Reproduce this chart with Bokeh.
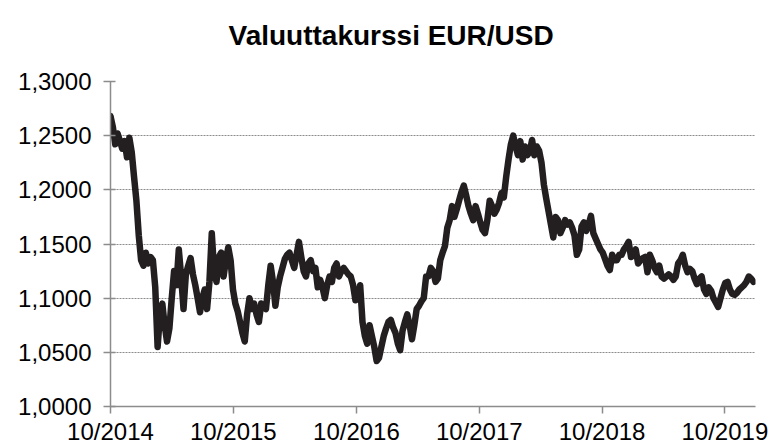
import pandas as pd
from bokeh.plotting import figure
from bokeh.models import Range1d, FixedTicker, Title
from bokeh.embed import file_html
from bokeh.resources import INLINE

title_text = "Valuuttakurssi EUR/USD"

# Weekly EUR/USD readings (from 1 Oct 2014)
v2014 = [1.268, 1.258, 1.242, 1.252, 1.245, 1.238, 1.245, 1.230, 1.248, 1.235,
         1.212, 1.190, 1.158, 1.135]
v2015 = [1.130, 1.142, 1.132, 1.138, 1.135, 1.110, 1.055, 1.085, 1.095, 1.075,
         1.060, 1.072, 1.100, 1.125, 1.112, 1.145, 1.120, 1.090, 1.122, 1.130,
         1.137, 1.122, 1.112, 1.100, 1.087, 1.100, 1.108, 1.090, 1.115, 1.160,
         1.125, 1.115, 1.138, 1.142, 1.120, 1.135, 1.147, 1.135, 1.108, 1.095,
         1.088, 1.078, 1.068, 1.060, 1.085, 1.100, 1.090, 1.095, 1.085, 1.078,
         1.095, 1.092]
v2016 = [1.090, 1.112, 1.130, 1.115, 1.093, 1.110, 1.120, 1.128, 1.136, 1.140,
         1.142, 1.135, 1.128, 1.140, 1.152, 1.138, 1.125, 1.120, 1.132, 1.135,
         1.125, 1.128, 1.110, 1.117, 1.110, 1.100, 1.112, 1.120, 1.115, 1.128,
         1.132, 1.120, 1.125, 1.128, 1.125, 1.122, 1.120, 1.112, 1.098, 1.100,
         1.112, 1.078, 1.065, 1.058, 1.075, 1.065, 1.055, 1.042, 1.045, 1.055,
         1.065, 1.072]
v2017 = [1.078, 1.080, 1.073, 1.068, 1.058, 1.052, 1.070, 1.078, 1.085, 1.075,
         1.062, 1.075, 1.090, 1.093, 1.097, 1.100, 1.120, 1.120, 1.128, 1.125,
         1.115, 1.118, 1.135, 1.142, 1.148, 1.165, 1.172, 1.185, 1.175, 1.182,
         1.190, 1.198, 1.204, 1.195, 1.185, 1.178, 1.172, 1.185, 1.178, 1.170,
         1.163, 1.160, 1.172, 1.190, 1.185, 1.178, 1.182, 1.188, 1.197, 1.193,
         1.212, 1.228]
v2018 = [1.242, 1.250, 1.240, 1.232, 1.245, 1.228, 1.240, 1.232, 1.235, 1.246,
         1.232, 1.240, 1.236, 1.225, 1.205, 1.192, 1.180, 1.168, 1.156, 1.175,
         1.172, 1.160, 1.165, 1.172, 1.168, 1.170, 1.165, 1.158, 1.140, 1.145,
         1.166, 1.170, 1.162, 1.168, 1.176, 1.160, 1.155, 1.150, 1.145, 1.142,
         1.136, 1.130, 1.126, 1.140, 1.135, 1.135, 1.140, 1.140, 1.145, 1.148,
         1.152, 1.138]
v2019 = [1.140, 1.145, 1.132, 1.135, 1.137, 1.138, 1.124, 1.140, 1.135, 1.128,
         1.124, 1.130, 1.120, 1.118, 1.120, 1.122, 1.120, 1.117, 1.120, 1.132,
         1.135, 1.140, 1.130, 1.124, 1.127, 1.125, 1.118, 1.113, 1.118, 1.120,
         1.108, 1.104, 1.110, 1.107, 1.100, 1.096, 1.092, 1.100, 1.108, 1.114,
         1.115, 1.108, 1.104, 1.103, 1.105, 1.108, 1.110, 1.112, 1.115, 1.120,
         1.118, 1.115]

x_tick_dates = ["2014-10-01", "2015-10-01", "2016-10-01", "2017-10-01", "2018-10-01", "2019-10-01"]
x_tick_labels = ["10/2014", "10/2015", "10/2016", "10/2017", "10/2018", "10/2019"]
y_ticks = [1.00, 1.05, 1.10, 1.15, 1.20, 1.25, 1.30]
y_tick_labels = ["1,0000", "1,0500", "1,1000", "1,1500", "1,2000", "1,2500", "1,3000"]

values = v2014 + v2015 + v2016 + v2017 + v2018 + v2019
dates = pd.date_range("2014-10-01", periods=len(values), freq="7D")

FONT = "Liberation Sans"
GRAY = "#8c8c8c"

p = figure(width=771, height=447, x_axis_type="datetime",
           output_backend="svg", toolbar_location=None,
           x_range=Range1d(pd.Timestamp("2014-10-01"), pd.Timestamp("2019-12-31")),
           y_range=Range1d(1.0, 1.3),
           min_border_left=110, min_border_right=16,
           min_border_top=81, min_border_bottom=40)

p.title = Title(text=title_text, align="left", offset=118,
                text_font=FONT, text_font_style="bold", text_font_size="28px",
                text_color="#000000")
# spacer between the title and the plot area
p.add_layout(Title(text=" ", text_font_size="12px"), "above")

p.line(dates, values, line_color="#231f20", line_width=6.5,
       line_join="round", line_cap="round")

# x axis
xt = [pd.Timestamp(d).timestamp() * 1000 for d in x_tick_dates]
p.xaxis.ticker = FixedTicker(ticks=xt)
p.xaxis.major_label_overrides = {t: l for t, l in zip(xt, x_tick_labels)}
p.xaxis.minor_tick_line_color = None
p.xaxis.major_tick_in = 0
p.xaxis.major_tick_out = 7
p.xaxis.major_label_standoff = 4

# y axis
p.yaxis.ticker = FixedTicker(ticks=y_ticks)
p.yaxis.major_label_overrides = {t: l for t, l in zip(y_ticks, y_tick_labels)}
p.yaxis.minor_tick_line_color = None
p.yaxis.major_tick_in = 5
p.yaxis.major_tick_out = 7
p.yaxis.major_label_standoff = 12

for ax in (p.xaxis, p.yaxis):
    ax.axis_line_color = GRAY
    ax.axis_line_width = 1.5
    ax.major_tick_line_color = GRAY
    ax.major_tick_line_width = 1.5
    ax.major_label_text_font = FONT
    ax.major_label_text_font_size = "24px"
    ax.major_label_text_color = "#000000"

p.xgrid.grid_line_color = None
p.ygrid.grid_line_color = GRAY
p.ygrid.grid_line_dash = "2 1"
p.ygrid.grid_line_width = 1
p.outline_line_color = None

open("out.html", "w").write(file_html(p, INLINE))
